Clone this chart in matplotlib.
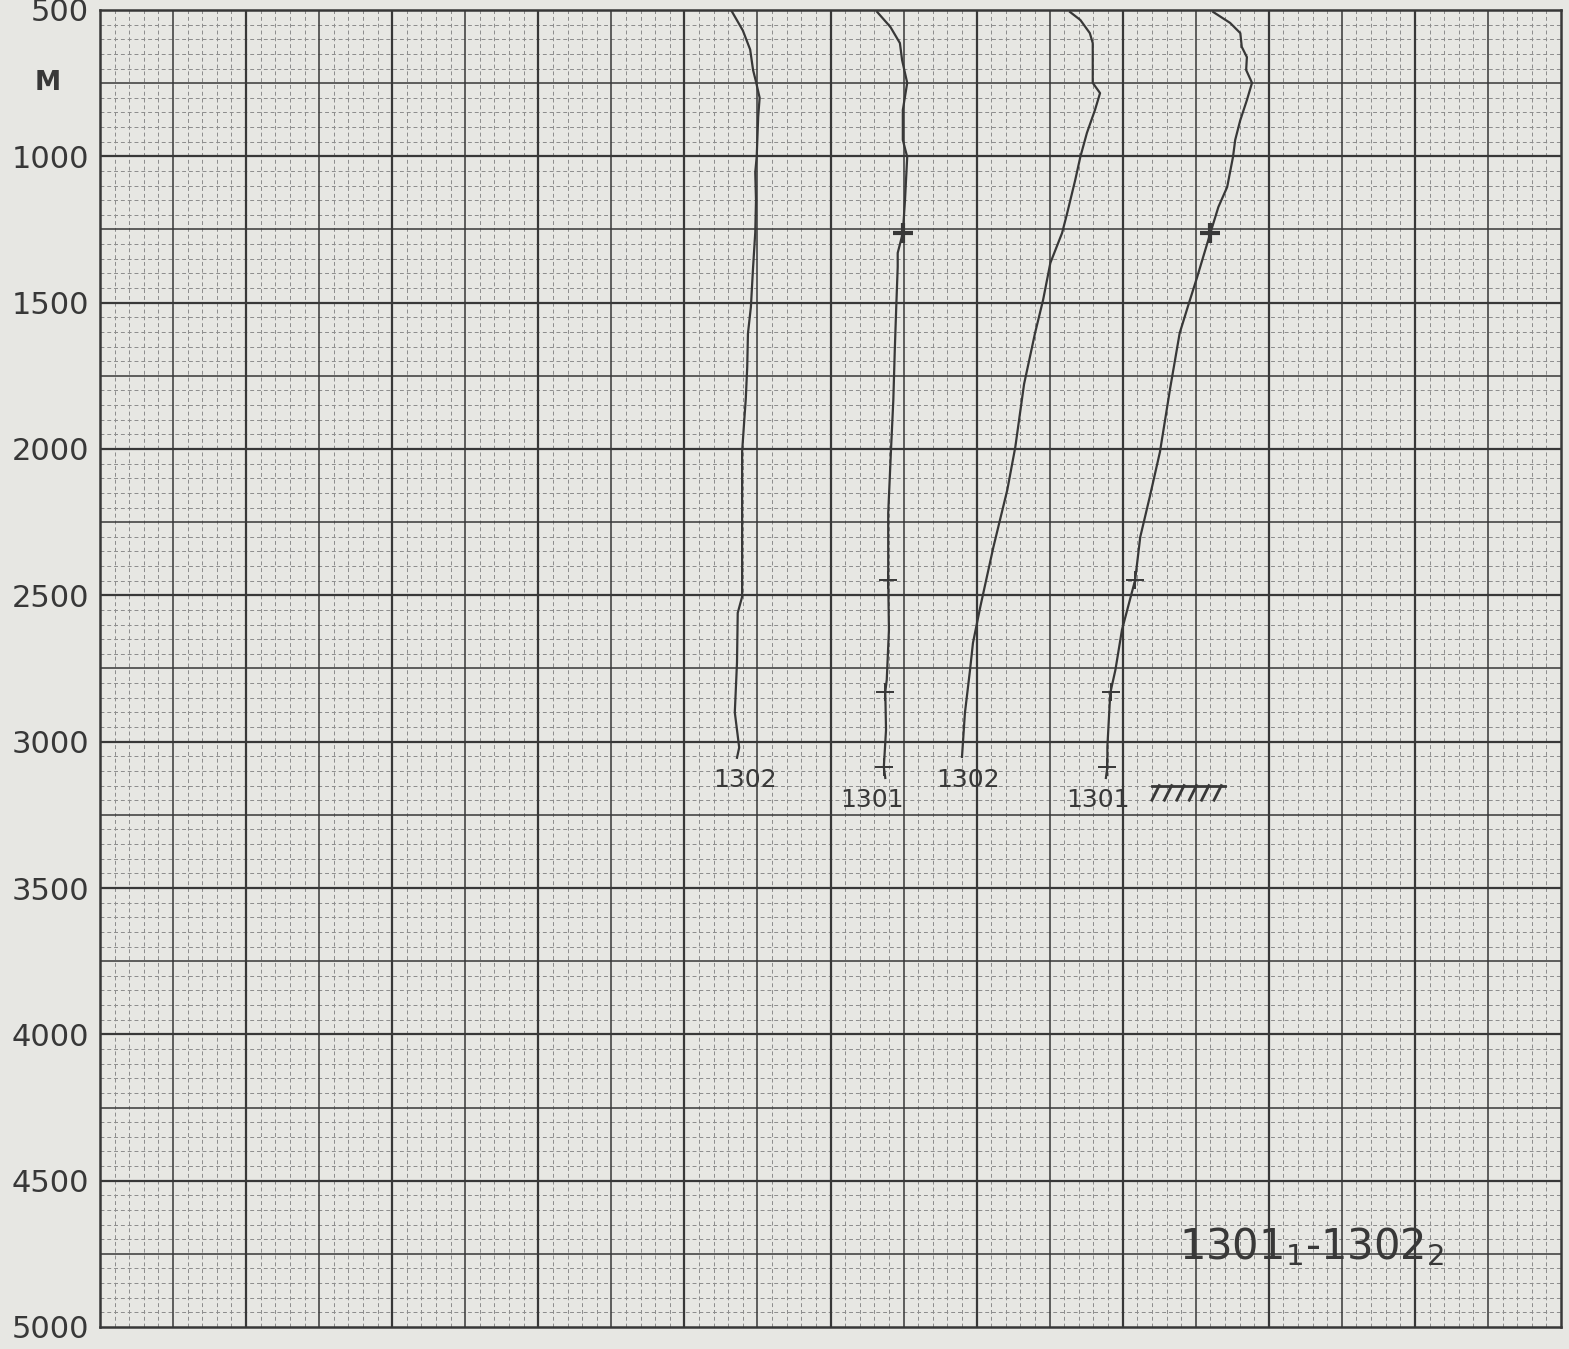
import matplotlib
matplotlib.use("Agg")
import matplotlib.pyplot as plt
from matplotlib.ticker import FixedLocator
import numpy as np

# depth profiles (x in paper units, depth in m)
a_x = [8.65, 8.80, 8.90, 8.94, 8.98, 9.03, 9.01, 8.99, 8.97, 8.98, 8.97, 8.94, 8.91,
       8.87, 8.86, 8.84, 8.82, 8.79, 8.79, 8.79, 8.73, 8.72, 8.69, 8.75, 8.72]
a_d = [505, 570, 635, 705, 745, 800, 865, 1000, 1055, 1150, 1260, 1380, 1515,
       1605, 1720, 1830, 1900, 2010, 2220, 2505, 2560, 2730, 2900, 3020, 3055]

b_x = [10.64, 10.82, 10.95, 10.98, 11.05, 10.99, 10.99, 11.05, 11.02, 10.99, 10.92, 10.92,
       10.90, 10.88, 10.86, 10.83, 10.79, 10.79, 10.80, 10.77, 10.75, 10.76, 10.73, 10.75]
b_d = [507, 558, 613, 671, 749, 842, 944, 1002, 1149, 1262, 1330, 1378,
       1515, 1662, 1833, 1993, 2219, 2448, 2618, 2789, 2830, 2960, 3087, 3124]

c_x = [13.28, 13.42, 13.55, 13.59, 13.59, 13.69, 13.62, 13.51, 13.42, 13.35, 13.24, 13.17,
       13.01, 12.91, 12.80, 12.65, 12.53, 12.42, 12.23, 12.05, 11.95, 11.91, 11.84, 11.80]
c_d = [507, 534, 579, 613, 749, 784, 842, 920, 1002, 1081, 1194, 1262,
       1364, 1491, 1604, 1778, 1993, 2140, 2335, 2540, 2663, 2755, 2902, 3052]

d_x = [15.24, 15.47, 15.61, 15.63, 15.70, 15.69, 15.77, 15.70, 15.61, 15.54, 15.51, 15.43,
       15.31, 15.20, 15.02, 14.89, 14.78, 14.65, 14.51, 14.37, 14.24, 14.17, 13.99, 13.90,
       13.83, 13.79, 13.79, 13.77]
d_d = [507, 544, 579, 626, 661, 705, 749, 808, 876, 944, 1002, 1105,
       1173, 1262, 1412, 1515, 1604, 1792, 2010, 2164, 2301, 2448, 2618, 2755,
       2834, 3018, 3087, 3124]

# sample marks on the 1301 casts
mark_d = [1262, 2448, 2830, 3087]

ytick_vals = [500, 1000, 1500, 2000, 2500, 3000, 3500, 4000, 4500, 5000]
ytick_labels = ["500", "1000", "1500", "2000", "2500", "3000", "3500", "4000", "4500", "5000"]

cast_labels = ["1302", "1301", "1302", "1301"]
cast_label_x = [8.83, 10.57, 11.88, 13.66]
cast_label_d = [3130, 3200, 3130, 3200]

paper = "#e7e7e3"
ink = "#383838"

fig = plt.figure(figsize=(15.69, 13.49), dpi=100, facecolor=paper)
ax = fig.add_axes([100 / 1569, 22 / 1349, 1461 / 1569, 1317 / 1349])
ax.set_facecolor(paper)
ax.set_xlim(0, 20)
ax.set_ylim(5000, 500)

# graph paper grid
for x in np.arange(0, 20.01, 0.2):
    if abs(x - round(x)) > 1e-6:
        ax.axvline(x, color="#8c8c8c", lw=0.7, ls=(0, (4, 3)), zorder=1)
for y in np.arange(500, 5001, 50):
    if y % 250:
        ax.axhline(y, color="#8c8c8c", lw=0.7, ls=(0, (4, 3)), zorder=1)
for x in np.arange(1, 20, 1):
    ax.axvline(x, color=ink, lw=1.6 if x % 2 == 0 else 1.1, zorder=2)
for y in np.arange(750, 5000, 250):
    ax.axhline(y, color=ink, lw=1.6 if y % 500 == 0 else 1.1, zorder=2)

for s in ax.spines.values():
    s.set_color(ink)
    s.set_linewidth(1.8)

ax.xaxis.set_major_locator(FixedLocator([]))
ax.yaxis.set_major_locator(FixedLocator(ytick_vals))
ax.set_yticklabels(ytick_labels)
ax.tick_params(axis="y", length=0, pad=8, labelsize=22, labelcolor=ink)

# profiles
for xs, ds in [(a_x, a_d), (b_x, b_d), (c_x, c_d), (d_x, d_d)]:
    ax.plot(xs, ds, color=ink, lw=1.6, zorder=4)

for xs, ds in [(b_x, b_d), (d_x, d_d)]:
    mx = np.interp(mark_d, ds, xs)
    ax.plot(mx[:1], mark_d[:1], ls="none", marker="+", ms=14, mew=3, color=ink, zorder=5)
    ax.plot(mx[1:], mark_d[1:], ls="none", marker="+", ms=13, mew=1.4, color=ink, zorder=5)

for lab, x, d in zip(cast_labels, cast_label_x, cast_label_d):
    ax.text(x, d, lab, ha="center", va="center", fontsize=18, color=ink, zorder=6)

# bottom symbol
ax.plot([14.4, 15.4], [3150, 3150], color=ink, lw=2, zorder=6)
for x in np.linspace(14.5, 15.35, 6):
    ax.plot([x, x - 0.1], [3150, 3200], color=ink, lw=2, zorder=6)

fig.text(48 / 1569, 1 - 83 / 1349, "M", ha="center", va="center", fontsize=19,
         color=ink, fontweight="bold")

ax.text(16.58, 4725, r"1301$_\mathregular{1}$-1302$_\mathregular{2}$", ha="center",
        va="center", fontsize=30, color=ink, zorder=6)

fig.savefig("out.png", dpi=100, facecolor=paper)
